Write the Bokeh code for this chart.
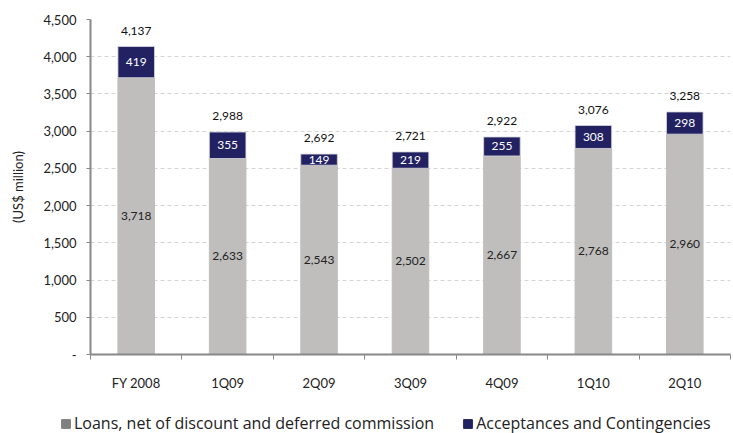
import numpy as np
from bokeh.plotting import figure
from bokeh.layouts import column, row
from bokeh.models import (ColumnDataSource, FixedTicker, NumeralTickFormatter, Legend, LegendItem, Range1d, LabelSet)
from bokeh.core.properties import value
from bokeh.embed import file_html
from bokeh.resources import INLINE

categories = ["FY 2008", "1Q09", "2Q09", "3Q09", "4Q09", "1Q10", "2Q10"]
loans = [3718, 2633, 2543, 2502, 2667, 2768, 2960]
acceptances = [419, 355, 149, 219, 255, 308, 298]
totals = [4137, 2988, 2692, 2721, 2922, 3076, 3258]
y_ticks = [0, 500, 1000, 1500, 2000, 2500, 3000, 3500, 4000, 4500]
series_names = ["Loans, net of discount and deferred commission", "Acceptances and Contingencies"]

FONT = "Lato"
GRAY = "#bfbebc"
NAVY = "#222262"

n = len(categories)
xs = [i + 0.5 for i in range(n)]
src = ColumnDataSource(dict(
    x=xs,
    loans=loans,
    acc=acceptances,
    top=[l + a for l, a in zip(loans, acceptances)],
    loans_mid=[l / 2 for l in loans],
    acc_mid=[l + a / 2 for l, a in zip(loans, acceptances)],
    total=totals,
    loans_lbl=[f"{v:,}" for v in loans],
    acc_lbl=[f"{v:,}" for v in acceptances],
    total_lbl=[f"{v:,}" for v in totals],
))

p = figure(width=733, height=405, output_backend="svg", toolbar_location=None,
           x_range=Range1d(0, n), y_range=Range1d(0, 4500),
           min_border_left=90, min_border_right=3, min_border_top=19, min_border_bottom=51)
p.outline_line_color = None

p.vbar(x="x", bottom=0, top="loans", width=0.4, source=src, fill_color=GRAY, line_color=GRAY)
p.vbar(x="x", bottom="loans", top="top", width=0.4, source=src, fill_color=NAVY, line_color="#d8d8e0", line_width=0.8)

lbl_kw = dict(source=src, text_align="center", text_baseline="middle",
              text_font=value(FONT), text_font_size="12px")
p.add_layout(LabelSet(x="x", y="loans_mid", text="loans_lbl", text_color="#222222", **lbl_kw))
p.add_layout(LabelSet(x="x", y="acc_mid", text="acc_lbl", text_color="white", **lbl_kw))
p.add_layout(LabelSet(x="x", y="top", text="total_lbl", y_offset=16, text_color="#111111", **lbl_kw))

# axes
xa = p.xaxis[0]
xa.ticker = FixedTicker(ticks=xs, minor_ticks=list(range(n + 1)))
xa.major_label_overrides = {x: c for x, c in zip(xs, categories)}
xa.major_tick_line_color = None
xa.minor_tick_line_color = "#888888"
xa.minor_tick_out = 5
xa.minor_tick_in = 0
xa.axis_line_color = "#888888"
xa.axis_line_width = 2
xa.major_label_text_font = FONT
xa.major_label_text_font_size = "13px"
xa.major_label_text_color = "#222222"
xa.major_label_standoff = 14

ya = p.yaxis[0]
ya.ticker = FixedTicker(ticks=y_ticks)
ya.formatter = NumeralTickFormatter(format="0,0")
ya.major_label_overrides = {0: "-"}
ya.minor_tick_line_color = None
ya.major_tick_line_color = "#888888"
ya.major_tick_out = 4
ya.major_tick_in = 0
ya.axis_line_color = "#888888"
ya.axis_line_width = 2
ya.major_label_text_font = FONT
ya.major_label_text_font_size = "13px"
ya.major_label_text_color = "#222222"
ya.major_label_standoff = 10
ya.axis_label = "(US$ million)"
ya.axis_label_text_font = FONT
ya.axis_label_text_font_size = "13px"
ya.axis_label_text_font_style = "normal"
ya.axis_label_text_color = "#222222"
ya.axis_label_standoff = 14

p.xgrid.grid_line_color = None
p.ygrid.grid_line_color = "#d4d4d4"
p.ygrid.grid_line_dash = "4 3"

# legend figure
lf = figure(width=733, height=28, output_backend="svg", toolbar_location=None,
            x_range=Range1d(0, 1), y_range=Range1d(0, 1),
            x_axis_location=None, y_axis_location=None,
            min_border_left=0, min_border_right=0, min_border_top=0, min_border_bottom=0)
lf.outline_line_color = None
lf.xgrid.grid_line_color = None
lf.ygrid.grid_line_color = None
r1 = lf.quad(left=[-10], right=[-9], bottom=[-10], top=[-9], fill_color="#808080", line_color="#808080")
r2 = lf.quad(left=[-10], right=[-9], bottom=[-10], top=[-9], fill_color=NAVY, line_color=NAVY)
legend = Legend(items=[LegendItem(label=series_names[0], renderers=[r1]),
                       LegendItem(label=series_names[1], renderers=[r2])],
                orientation="horizontal", location=(60, -1),
                label_text_font="Open Sans", label_text_font_size="16px", label_text_color="#222222",
                glyph_width=11, glyph_height=11, label_standoff=3, spacing=28,
                border_line_color=None, background_fill_alpha=0, padding=0, margin=0)
lf.add_layout(legend)

layout = column(p, row(lf, spacing=0), spacing=0)
open("out.html", "w").write(file_html(layout, INLINE))
